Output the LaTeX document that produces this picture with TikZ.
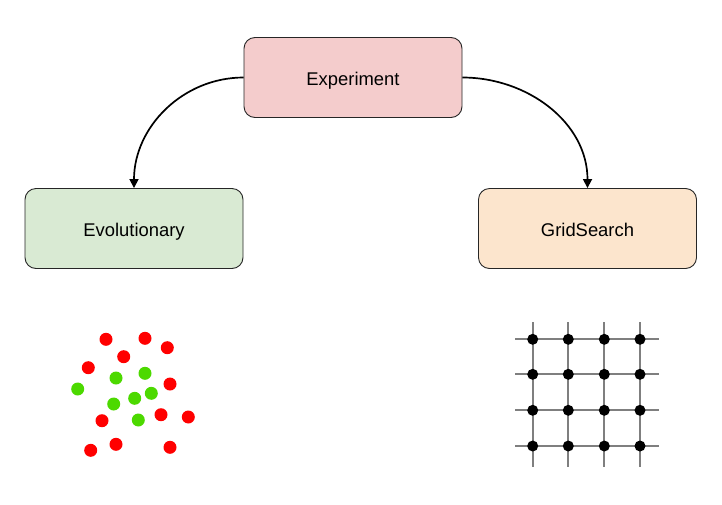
\documentclass[tikz,border=0pt]{standalone}
\usepackage{fontspec}
\setmainfont{Liberation Sans}
\usetikzlibrary{arrows.meta}
\definecolor{expfill}{HTML}{F4CCCC}
\definecolor{evofill}{HTML}{D9EAD3}
\definecolor{gridfill}{HTML}{FCE5CD}
\definecolor{dotred}{HTML}{FF0000}
\definecolor{dotgreen}{HTML}{4CD900}
\definecolor{gridline}{HTML}{7F7F7F}
\tikzset{
  box/.style={draw=black!85, line width=0.9pt, rounded corners=11pt, minimum width=218pt, minimum height=80pt, inner sep=0pt, text height=16.5pt, text depth=0.5pt, font=\fontsize{18.4}{22}\selectfont},
  conn/.style={draw=black, line width=1.7pt, -{Triangle[length=9pt,width=9pt]}},
  rdot/.style={circle, fill=dotred, inner sep=0pt, minimum size=13pt},
  gdot/.style={circle, fill=dotgreen, inner sep=0pt, minimum size=13pt},
  kdot/.style={circle, fill=black, inner sep=0pt, minimum size=11pt},
  gline/.style={draw=gridline, line width=2pt}
}
\begin{document}
\begin{tikzpicture}[x=1pt,y=-1pt]
\useasboundingbox (0,0) rectangle (722,504);
\node[box, fill=expfill] (exp) at (353,77.5) {Experiment};
\node[box, fill=evofill] (evo) at (134,228.5) {Evolutionary};
\node[box, fill=gridfill] (grid) at (587.5,228.5) {GridSearch};
\draw[conn] (exp.west) to[out=180,in=90] (evo.north);
\draw[conn] (exp.east) to[out=0,in=90] (grid.north);
% scattered points
\foreach \x/\y [count=\i] in {106/339.3,145/338.3,167.3/347.7,123.7/356.7,88.3/367.7,170/384,102/420.7,161/414.7,188.3/417,90.7/450.3,116/444.3,170/447.3}
  \node[rdot] (r\i) at (\x,\y) {};
\foreach \x/\y [count=\i] in {116/378,145/373.3,77.7/389,151.3/393.3,134.7/398.3,113.7/404,138.3/420}
  \node[gdot] (g\i) at (\x,\y) {};
% grid
\foreach \x [count=\i] in {532.7,568.3,604.3,640}
  \draw[gline] (\x,322.3) -- (\x,466.7);
\foreach \y [count=\j] in {339.3,374.3,410.3,446}
  \draw[gline] (515,\y) -- (659.3,\y);
\foreach \x [count=\i] in {532.7,568.3,604.3,640}
  \foreach \y [count=\j] in {339.3,374.3,410.3,446}
    \node[kdot] (k\i\j) at (\x,\y) {};
\end{tikzpicture}
\end{document}
